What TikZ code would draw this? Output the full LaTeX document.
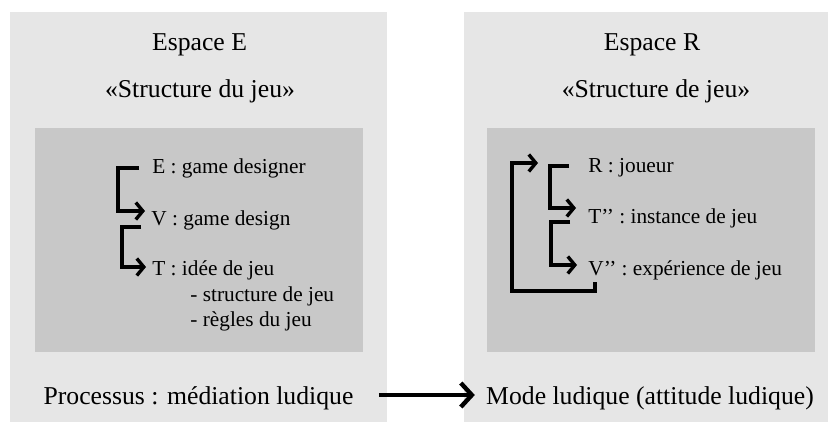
\documentclass[tikz,border=0pt]{standalone}
\usepackage{fontspec}
\setmainfont{Liberation Serif}
\usetikzlibrary{arrows.meta, calc}
\definecolor{espacegray}{RGB}{230,230,230}
\definecolor{structgray}{RGB}{200,200,200}
\newcommand{\titlesize}{\fontsize{12.85pt}{15pt}\selectfont}
\newcommand{\itemsize}{\fontsize{10.65pt}{13pt}\selectfont}

\begin{document}
\begin{tikzpicture}[
  x=0.5pt, y=-0.5pt,
  title/.style={anchor=base, inner sep=0pt, font=\titlesize},
  item/.style={anchor=base west, inner sep=0pt, font=\itemsize},
  brk/.style={line width=1.7pt, -{Straight Barb[length=3.5pt, width=8.5pt]}},
  flow/.style={line width=2.2pt, -{Straight Barb[length=5.5pt, width=12pt]}}
]
\useasboundingbox (0,0) rectangle (828,423);
% espaces
\fill[espacegray] (10,12) rectangle (387,422);
\fill[espacegray] (464,12) rectangle (828,422);
\fill[structgray] (35,128) rectangle (363,352);
\fill[structgray] (487,128) rectangle (815,352);

% Espace E
\node[title] (espE) at (199.5,50) {Espace E};
\node[title] (structE) at (200,97) {«Structure du jeu»};
\node[item] (designer) at (152,173) {E : game designer};
\node[item] (design) at (151,225) {V : game design};
\node[item] (idee) at (152,275) {T : idée de jeu};
\node[item] (structjeu) at (190,301) {- structure de jeu};
\node[item] (regles) at (190,326) {- règles du jeu};

% Espace R
\node[title] (espR) at (652,50) {Espace R};
\node[title] (structR) at (656,97) {«Structure de jeu»};
\node[item] (joueur) at (588,172) {R : joueur};
\node[item] (instance) at (588,223) {T’’ : instance de jeu};
\node[item] (experience) at (588,275) {V’’ : expérience de jeu};

% processus / mode
\node[title] (processus) at (198.5,404) {Processus : médiation ludique};
\node[title] (mode) at (650,404) {Mode ludique (attitude ludique)};

% brackets
\draw[brk] ([shift={(-13,-5)}]designer.base west) -- ++(-21,0) |- ([shift={(-6,-14)}]design.base west);
\draw[brk] ([shift={(-10,2)}]design.base west) -- ++(-19,0) |- ([shift={(-6,-8)}]idee.base west);
\draw[brk] ([shift={(-19,-6)}]joueur.base west) -- ++(-19,0) |- ([shift={(-12,-15)}]instance.base west);
\draw[brk] ([shift={(-18,-1)}]instance.base west) -- ++(-19,0) |- ([shift={(-11,-10)}]experience.base west);
\draw[brk] ([shift={(7,7)}]experience.base west) -- ++(0,9) -- ++(-83,0) |- ([shift={(-50,-9)}]joueur.base west);

\draw[flow] ([shift={(25,-9)}]processus.base east) -- ([shift={(-11,-9)}]mode.base west);
\end{tikzpicture}
\end{document}
